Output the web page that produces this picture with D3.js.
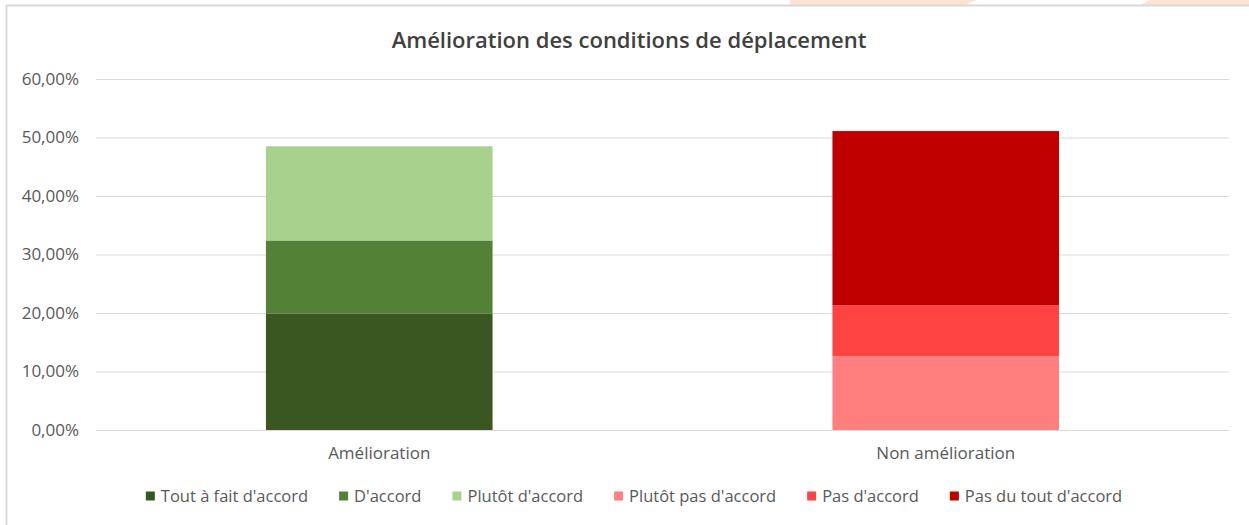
<!DOCTYPE html>
<html>
<head>
<meta charset="utf-8">
<script src="https://cdn.jsdelivr.net/npm/d3@7"></script>
<style>
  body { margin: 0; background: #fff; }
  text { font-family: "Open Sans", sans-serif; }
</style>
</head>
<body>
<div id="chart"></div>
<script>
const categories = ["Amélioration", "Non amélioration"];
const seriesNames = ["Tout à fait d'accord", "D'accord", "Plutôt d'accord",
  "Plutôt pas d'accord", "Pas d'accord", "Pas du tout d'accord"];
const seriesColors = ["#3a5722", "#538135", "#a9d18e", "#ff7f7f", "#ff4343", "#c00000"];
// one value per category, in %
const toutAFait = [19.9, 0];
const dAccord = [12.5, 0];
const plutotAccord = [16.1, 0];
const plutotPas = [0, 12.6];
const pasDAccord = [0, 8.7];
const pasDuTout = [0, 29.8];
const yTicks = [0, 10, 20, 30, 40, 50, 60];

const W = 1249, H = 525;
const plot = { left: 96, right: 1229, top: 79, bottom: 430 };

const svg = d3.select("#chart").append("svg")
  .attr("width", W).attr("height", H);

// page background leftovers above the chart frame
svg.append("polygon").attr("points", "790,0 977,0 965,5 790,5").attr("fill", "#fde3d2");
svg.append("polygon").attr("points", "1150,0 1249,0 1249,5 1140,5").attr("fill", "#fde3d2");

// chart frame
svg.append("line").attr("x1", 6).attr("x2", W).attr("y1", 5.5).attr("y2", 5.5)
  .attr("stroke", "#d9d9d9").attr("stroke-width", 2);
svg.append("line").attr("x1", 6.5).attr("x2", 6.5).attr("y1", 5).attr("y2", H)
  .attr("stroke", "#d9d9d9").attr("stroke-width", 2);

const table = categories.map((c, i) => ({
  cat: c,
  s0: toutAFait[i], s1: dAccord[i], s2: plutotAccord[i],
  s3: plutotPas[i], s4: pasDAccord[i], s5: pasDuTout[i]
}));
const keys = ["s0", "s1", "s2", "s3", "s4", "s5"];
const stacked = d3.stack().keys(keys)(table);

const x = d3.scaleBand().domain(categories)
  .range([plot.left, plot.right]).paddingInner(0.6).paddingOuter(0.3);
const y = d3.scaleLinear().domain([0, 60]).range([plot.bottom, plot.top]);

// gridlines + y labels
const yAxis = svg.append("g")
  .attr("transform", `translate(${plot.left},0)`)
  .call(d3.axisLeft(y).tickValues(yTicks)
    .tickSize(-(plot.right - plot.left)).tickPadding(17)
    .tickFormat(d => d.toFixed(2).replace(".", ",") + "%"));
yAxis.select(".domain").remove();
yAxis.selectAll(".tick line").attr("stroke", "#d9d9d9");
yAxis.selectAll(".tick text").attr("fill", "#595959")
  .style("font-size", "17px").style("font-family", "'Open Sans', sans-serif");

// bars
svg.append("g").selectAll("g")
  .data(stacked).join("g")
  .attr("fill", (d, i) => seriesColors[i])
  .selectAll("rect")
  .data(d => d).join("rect")
  .attr("x", d => x(d.data.cat))
  .attr("width", x.bandwidth())
  .attr("y", d => y(d[1]))
  .attr("height", d => y(d[0]) - y(d[1]));

// category labels
const xAxis = svg.append("g")
  .attr("transform", `translate(0,${plot.bottom})`)
  .call(d3.axisBottom(x).tickSize(0).tickPadding(17));
xAxis.select(".domain").remove();
xAxis.selectAll(".tick text").attr("fill", "#595959")
  .style("font-size", "17px").style("font-family", "'Open Sans', sans-serif");

// title
svg.append("text")
  .attr("x", 629).attr("y", 48)
  .attr("text-anchor", "middle")
  .attr("fill", "#404040")
  .style("font-size", "22px").style("font-weight", "600")
  .text("Amélioration des conditions de déplacement");

// legend
const legend = svg.append("g");
const items = legend.selectAll("g").data(seriesNames).join("g");
items.append("rect").attr("width", 9).attr("height", 9).attr("y", -4.5)
  .attr("fill", (d, i) => seriesColors[i]);
items.append("text").attr("x", 15).attr("dy", "0.35em")
  .attr("fill", "#595959").style("font-size", "16.5px").text(d => d);
let lx = 0;
items.each(function () {
  const w = this.getBBox().width;
  d3.select(this).attr("transform", `translate(${lx},0)`);
  lx += w + 31;
});
const totalW = lx - 31;
legend.attr("transform", `translate(${634 - totalW / 2},496)`);
</script>
</body>
</html>
